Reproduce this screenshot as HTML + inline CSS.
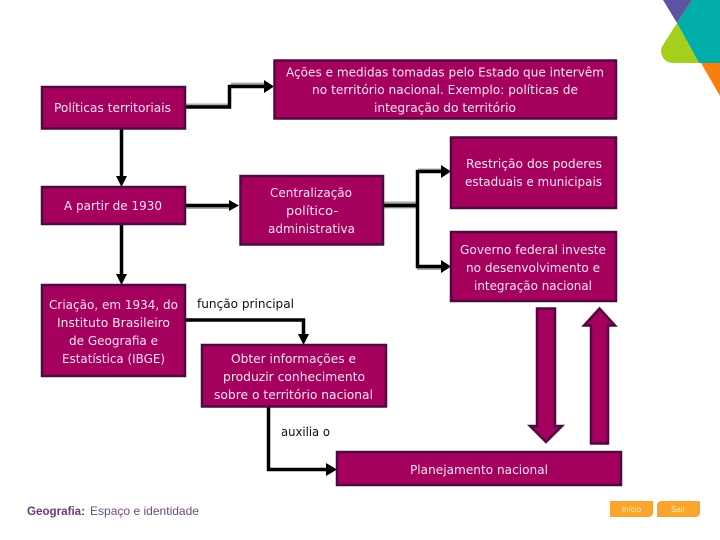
<!DOCTYPE html>
<html lang="pt"><head><meta charset="utf-8"><title>Políticas territoriais</title>
<style>
html,body{margin:0;padding:0;background:#fff;width:720px;height:540px;overflow:hidden}
svg{display:block}
.b{fill:#a6005f;stroke:#4d0a42;stroke-width:2.5}
.c{fill:none;stroke:#000;stroke-width:3.5;stroke-linejoin:miter}
.s{fill:none;stroke:#a8a8a8;stroke-width:3}
text{font-family:"DejaVu Sans","Liberation Sans",sans-serif;font-size:12.5px}
.w{fill:#f6e4f0}
.k{fill:#111}
</style></head><body>
<svg width="720" height="540" viewBox="0 0 720 540" xmlns="http://www.w3.org/2000/svg">
<!-- logo -->
<polygon points="663,0 692,0 677,23" fill="#5d55a3"/>
<polygon points="692,0 720,0 720,63 699,63 677,23" fill="#00ada9"/>
<path d="M677,23 L699,63 H674 Q664,63 661.500,54 Q660,49 663,45 Z" fill="#a6ce1c"/>
<polygon points="701,63 720,63 720,96" fill="#f6800f"/>

<!-- connector shadows -->
<path class="s" d="M186,105 H229 M231,84 H266" />
<path class="s" d="M186,207.500 H230" />
<path class="s" d="M384,203 H416 M384,207 H416 M418,170 H444" />
<path class="s" d="M417,268.500 H444" />

<!-- connectors -->
<path class="c" d="M186,107 H229.500 V86.500 H267"/>
<polygon points="264,80 274,86.500 264,93" fill="#000"/>
<path class="c" d="M121.500,129 V181"/>
<polygon points="116,176 127,176 121.500,187" fill="#000"/>
<path class="c" d="M186,205.500 H233"/>
<polygon points="229,200 239,205.500 229,211" fill="#000"/>
<path class="c" d="M121.500,225 V279"/>
<polygon points="116,274 127,274 121.500,285" fill="#000"/>
<path class="c" d="M384,205.500 H417.500"/>
<path class="c" d="M444,171.500 H417.500 V266.500 H444"/>
<polygon points="441,165 451,171.500 441,178" fill="#000"/>
<polygon points="441,260 451,266.500 441,273" fill="#000"/>
<path class="c" d="M186,320 H303.500 V339"/>
<polygon points="298,334 309,334 303.500,345" fill="#000"/>
<path class="c" d="M268.500,407 V469.500 H330"/>
<polygon points="326,463 337,469.500 326,476" fill="#000"/>

<!-- boxes -->
<rect class="b" x="42" y="87" width="143" height="41.500"/>
<rect class="b" x="274.500" y="60.500" width="341.500" height="58"/>
<rect class="b" x="42" y="187" width="143" height="37"/>
<rect class="b" x="240.500" y="176" width="142.500" height="68.500"/>
<rect class="b" x="451" y="137.500" width="165" height="70.500"/>
<rect class="b" x="451" y="232" width="165" height="69"/>
<rect class="b" x="42" y="285" width="143" height="91"/>
<rect class="b" x="202" y="345" width="184" height="61.500"/>
<rect class="b" x="337" y="452" width="284" height="33"/>

<!-- block arrows -->
<polygon class="b" points="537,308.500 555,308.500 555,426 562,426 546,442 530,426 537,426"/>
<polygon class="b" points="599.500,308.500 615,325.500 608,325.500 608,443.500 591,443.500 591,325.500 584,325.500"/>

<!-- labels -->
<g class="w">
<text x="54" y="112" textLength="117" lengthAdjust="spacingAndGlyphs">Políticas territoriais</text>
<text x="286" y="76.500" textLength="318" lengthAdjust="spacingAndGlyphs">Ações e medidas tomadas pelo Estado que intervêm</text>
<text x="312" y="94" textLength="266" lengthAdjust="spacingAndGlyphs">no território nacional. Exemplo: políticas de</text>
<text x="374" y="112" textLength="142" lengthAdjust="spacingAndGlyphs">integração do território</text>
<text x="64" y="210" textLength="98" lengthAdjust="spacingAndGlyphs">A partir de 1930</text>
<text x="270" y="197" textLength="82" lengthAdjust="spacingAndGlyphs">Centralização</text>
<text x="286" y="215" textLength="52" lengthAdjust="spacingAndGlyphs">político-</text>
<text x="268" y="233" textLength="87" lengthAdjust="spacingAndGlyphs">administrativa</text>
<text x="466" y="168" textLength="136" lengthAdjust="spacingAndGlyphs">Restrição dos poderes</text>
<text x="465" y="186" textLength="137" lengthAdjust="spacingAndGlyphs">estaduais e municipais</text>
<text x="460" y="254" textLength="146" lengthAdjust="spacingAndGlyphs">Governo federal investe</text>
<text x="466" y="272" textLength="134" lengthAdjust="spacingAndGlyphs">no desenvolvimento e</text>
<text x="474" y="290" textLength="118" lengthAdjust="spacingAndGlyphs">integração nacional</text>
<text x="49" y="309" textLength="129" lengthAdjust="spacingAndGlyphs">Criação, em 1934, do</text>
<text x="57" y="327" textLength="113" lengthAdjust="spacingAndGlyphs">Instituto Brasileiro</text>
<text x="69" y="345" textLength="89" lengthAdjust="spacingAndGlyphs">de Geografia e</text>
<text x="62" y="363" textLength="103" lengthAdjust="spacingAndGlyphs">Estatística (IBGE)</text>
<text x="231" y="363" textLength="125" lengthAdjust="spacingAndGlyphs">Obter informações e</text>
<text x="223" y="381" textLength="142" lengthAdjust="spacingAndGlyphs">produzir conhecimento</text>
<text x="214" y="399" textLength="159" lengthAdjust="spacingAndGlyphs">sobre o território nacional</text>
<text x="410" y="474" textLength="138" lengthAdjust="spacingAndGlyphs">Planejamento nacional</text>
</g>
<text class="k" x="197" y="308" textLength="97" lengthAdjust="spacingAndGlyphs">função principal</text>
<text class="k" x="281" y="436" textLength="49" lengthAdjust="spacingAndGlyphs">auxilia o</text>

<!-- footer -->
<text x="27" y="515" textLength="58" lengthAdjust="spacingAndGlyphs" style="font-family:'Liberation Sans',sans-serif;font-size:12px;font-weight:bold" fill="#6a3a78">Geografia:</text>
<text x="90" y="515" textLength="109" lengthAdjust="spacingAndGlyphs" style="font-family:'Liberation Sans',sans-serif;font-size:12px" fill="#6f4a80">Espaço e identidade</text>

<!-- buttons -->
<path d="M610,501 H653 V512 Q653,517 648,517 H610 Z" fill="#f9a52d"/>
<path d="M657,506 Q657,501 662,501 H700 V512 Q700,517 695,517 H657 Z" fill="#f9a52d"/>
<text x="631.500" y="512" text-anchor="middle" style="font-family:'Liberation Sans',sans-serif;font-size:8px" fill="#fdeacb">Início</text>
<text x="678" y="512" text-anchor="middle" style="font-family:'Liberation Sans',sans-serif;font-size:8px" fill="#fdeacb">Sair</text>
</svg>
</body></html>
